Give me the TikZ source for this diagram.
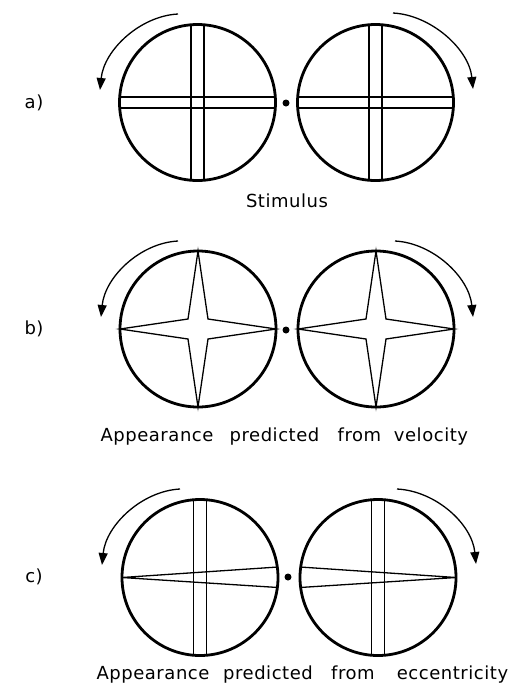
\documentclass[tikz,border=0pt]{standalone}
\usepackage{fontspec}
\setmainfont{DejaVu Sans}[LetterSpace=3]
\usetikzlibrary{arrows.meta}
\tikzset{
  ring/.style={circle,draw,line width=2.8pt,minimum size=156pt,inner sep=0pt},
  fine/.style={line width=1.3pt,line join=miter},
  turn/.style={line width=1.3pt,-{Triangle[length=12pt,width=9pt]}},
  word/.style={anchor=base,inner sep=0pt,font=\fontsize{18}{20}\selectfont},
  dotmark/.style={circle,fill,inner sep=0pt,minimum size=7pt}
}
\newcommand\barcross[3]{%
  \begin{scope}[shift={(#1)}]
    \clip (0,0) circle (78pt);
    \draw[fine] (-#2,-100) -- (-#2,100) (#2,-100) -- (#2,100);
    \draw[fine] (-100,-#3) -- (100,-#3) (-100,#3) -- (100,#3);
  \end{scope}}
\newcommand\starshape[1]{%
  \begin{scope}[shift={(#1)}]
    \draw[fine] (0,-78) -- (10,-10) -- (78,0) -- (10,10) -- (0,78) -- (-10,10) -- (-78,0) -- (-10,-10) -- cycle;
  \end{scope}}
\newcommand\wedgebar[3]{%
  \begin{scope}[shift={(#1)}]
    \clip (0,0) circle (78pt);
    \draw[fine] (-#2,-100) -- (-#2,100) (#2,-100) -- (#2,100);
    \draw[fine] (#3*78,-10.5) -- (-#3*78,0) -- (#3*78,10);
  \end{scope}}
\begin{document}
\begin{tikzpicture}[x=1pt,y=-1pt]
\useasboundingbox (0,0) rectangle (515,691);
% row a
\coordinate (ca1) at (197.5,102.5);
\coordinate (ca2) at (375.5,102.5);
\barcross{ca1}{6.5}{5.5}
\barcross{ca2}{6.5}{5.5}
\node[ring] (ra1) at (ca1) {};
\node[ring] (ra2) at (ca2) {};
\node[dotmark] (da) at (286,103) {};
\coordinate (sa1) at (178,14); \coordinate (ta1) at (100,90);
\coordinate (sa2) at (393,13); \coordinate (ta2) at (473,89);
\draw[turn] (sa1) .. controls (140,16) and (104,50) .. (ta1);
\draw[turn] (sa2) .. controls (431,15) and (469,49) .. (ta2);
\node[word] (la) at (34,108) {a)};
\node[word] (stim) at (287,207) {Stimulus};
% row b
\coordinate (cb1) at (198,329);
\coordinate (cb2) at (376,329);
\starshape{cb1}
\starshape{cb2}
\node[ring] (rb1) at (cb1) {};
\node[ring] (rb2) at (cb2) {};
\node[dotmark] (db) at (286,330) {};
\coordinate (sb1) at (178,241); \coordinate (tb1) at (101,317);
\coordinate (sb2) at (395,241); \coordinate (tb2) at (473,317);
\draw[turn] (sb1) .. controls (140,243) and (105,277) .. (tb1);
\draw[turn] (sb2) .. controls (433,243) and (469,277) .. (tb2);
\node[word] (lb) at (34,334) {b)};
\node[word] (wb1) at (157,441) {Appearance};
\node[word] (wb2) at (274.5,441) {predicted};
\node[word] (wb3) at (359.5,441) {from};
\node[word] (wb4) at (431,441) {velocity};
% row c
\coordinate (cc1) at (200,577.5);
\coordinate (cc2) at (378,577.5);
\wedgebar{cc1}{6.5}{1}
\wedgebar{cc2}{6.5}{-1}
\node[ring] (rc1) at (cc1) {};
\node[ring] (rc2) at (cc2) {};
\node[dotmark] (dc) at (288,577) {};
\coordinate (sc1) at (180,489); \coordinate (tc1) at (102,565);
\coordinate (sc2) at (397,489); \coordinate (tc2) at (476,564);
\draw[turn] (sc1) .. controls (142,491) and (106,525) .. (tc1);
\draw[turn] (sc2) .. controls (436,491) and (472,524) .. (tc2);
\node[word] (lc) at (34,582) {c)};
\node[word] (wc1) at (153,679) {Appearance};
\node[word] (wc2) at (268,679) {predicted};
\node[word] (wc3) at (353,679) {from};
\node[word] (wc4) at (452.5,679) {eccentricity};
\end{tikzpicture}
\end{document}
